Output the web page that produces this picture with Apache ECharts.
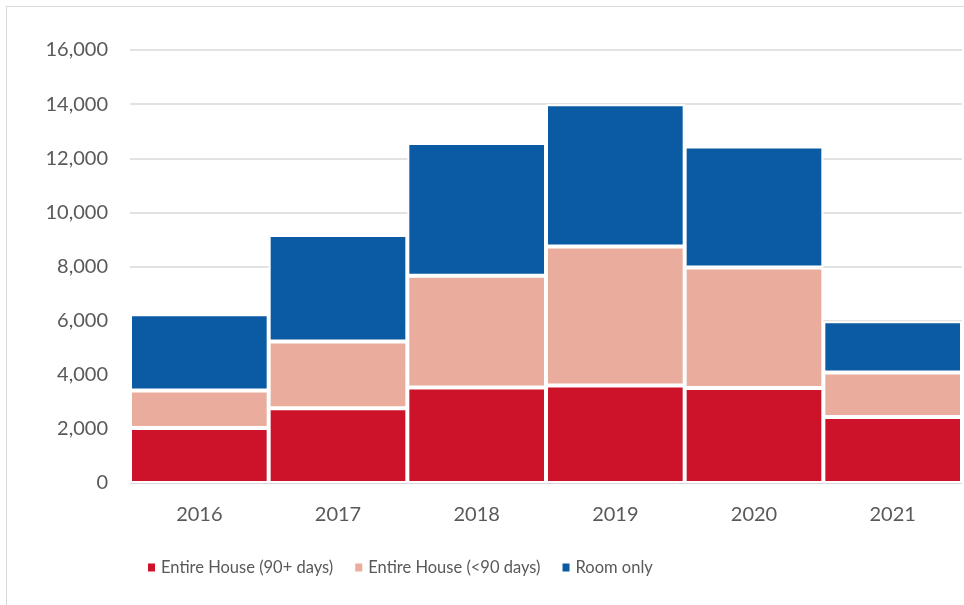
<!DOCTYPE html>
<html>
<head>
<meta charset="utf-8">
<script src="https://cdn.jsdelivr.net/npm/echarts@6/dist/echarts.min.js"></script>
<style>
  html, body { margin: 0; padding: 0; background: #fff; }
  #frame { position: absolute; left: 6px; top: 6px; width: 1000px; height: 700px; border: 1px solid #d9d9d9; }
  #main { position: absolute; left: 0; top: 0; width: 964px; height: 605px; }
</style>
</head>
<body>
<div id="frame"></div>
<div id="main"></div>
<script>
var years = ['2016', '2017', '2018', '2019', '2020', '2021'];
var entireLong = [2030, 2760, 3530, 3600, 3510, 2440];
var entireShort = [1390, 2470, 4130, 5140, 4450, 1640];
var roomOnly = [2820, 3930, 4900, 5260, 4470, 1900];

var myChart = echarts.init(document.getElementById('main'));

var font = 'Lato, "Open Sans", sans-serif';

function barSeries(name, data, color) {
  return {
    name: name,
    type: 'bar',
    stack: 'total',
    data: data,
    barCategoryGap: 0,
    itemStyle: { color: color, borderColor: '#fff', borderWidth: 2 }
  };
}

option = {
  animation: false,
  textStyle: { fontFamily: font },
  grid: { left: 130, right: 2, top: 50, bottom: 122 },
  legend: {
    left: 146,
    top: 559,
    padding: 0,
    itemWidth: 9,
    itemHeight: 10,
    itemGap: 20,
    icon: 'rect',
    textStyle: { fontSize: 16.5, color: '#595959', fontFamily: font },
    data: ['Entire House (90+ days)', 'Entire House (<90 days)', 'Room only']
  },
  xAxis: {
    type: 'category',
    data: years,
    axisLine: { lineStyle: { color: '#d9d9d9', width: 1 } },
    axisTick: { show: false },
    axisLabel: { fontSize: 20, color: '#595959', margin: 22 }
  },
  yAxis: {
    type: 'value',
    min: 0,
    max: 16000,
    interval: 2000,
    axisLine: { show: false },
    axisTick: { show: false },
    splitLine: { lineStyle: { color: '#d9d9d9', width: 1.5 } },
    axisLabel: {
      fontSize: 20,
      color: '#595959',
      margin: 22,
      formatter: function (v) { return v.toLocaleString('en-US'); }
    }
  },
  series: [
    barSeries('Entire House (90+ days)', entireLong, '#cc1329'),
    barSeries('Entire House (<90 days)', entireShort, '#eaac9d'),
    barSeries('Room only', roomOnly, '#0a5ba3')
  ]
};

myChart.setOption(option);
</script>
</body>
</html>
